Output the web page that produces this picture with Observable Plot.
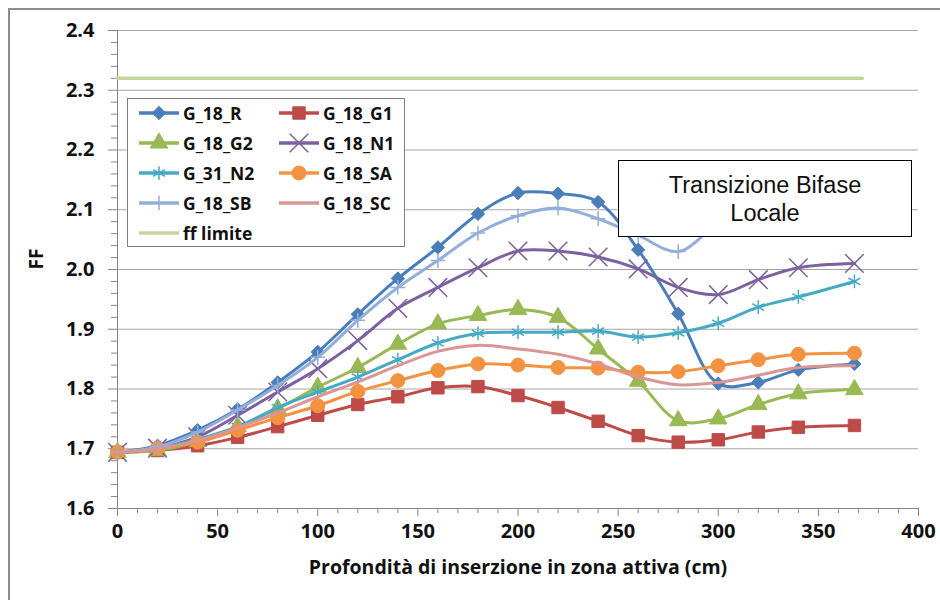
<!DOCTYPE html>
<html>
<head>
<meta charset="utf-8">
<script src="https://cdn.jsdelivr.net/npm/d3@7"></script>
<script src="https://cdn.jsdelivr.net/npm/@observablehq/plot@0.6"></script>
<style>
  body { margin: 0; background: #fff; }
  #wrap { position: relative; width: 940px; height: 600px; overflow: hidden; background: #fff; }
  #frame { position: absolute; left: 8px; top: 8px; width: 1000px; height: 700px; border-left: 2px solid #8c8c8c; border-top: 2px solid #8c8c8c; pointer-events: none; }
  #chart { position: absolute; left: 0; top: 0; }
  #legend { position: absolute; left: 127px; top: 98px; width: 278px; height: 149px; background: #fff; border: 1px solid #7f7f7f; box-sizing: border-box; font-family: "Open Sans", Lato, sans-serif; font-weight: bold; font-size: 17.5px; color: #111; }
  .item { position: absolute; display: flex; align-items: center; height: 20px; }
  .item span { margin-left: 3px; }
  #note { position: absolute; left: 618px; top: 160px; width: 294px; height: 77px; background: #fff; border: 1.5px solid #000; box-sizing: border-box; display: flex; align-items: center; justify-content: center; text-align: center; font-family: "Liberation Sans", Arial, sans-serif; font-size: 23.5px; line-height: 28px; color: #111; }
  #chart g[aria-label$="tick label"] text, #chart g[aria-label$="tick label"] { font-size: 20px !important; font-weight: bold; }
</style>
</head>
<body>
<div id="wrap">
  <div id="chart"></div>
  <div id="legend"></div>
  <div id="note">Transizione Bifase<br>Locale</div>
  <div id="frame"></div>
</div>
<script>
// ---- data ----
const depth = [0, 20, 40, 60, 80, 100, 120, 140, 160, 180, 200, 220, 240, 260, 280, 300, 320, 340, 368];
const G_18_R  = [1.694, 1.705, 1.731, 1.766, 1.811, 1.862, 1.925, 1.985, 2.037, 2.093, 2.128, 2.127, 2.113, 2.033, 1.926, 1.809, 1.811, 1.832, 1.842];
const G_18_G1 = [1.694, 1.697, 1.705, 1.719, 1.737, 1.756, 1.774, 1.787, 1.802, 1.804, 1.789, 1.769, 1.746, 1.722, 1.711, 1.715, 1.728, 1.736, 1.739];
const G_18_G2 = [1.694, 1.697, 1.712, 1.737, 1.767, 1.803, 1.836, 1.875, 1.909, 1.923, 1.933, 1.920, 1.867, 1.813, 1.747, 1.750, 1.774, 1.792, 1.799];
const G_18_N1 = [1.694, 1.701, 1.720, 1.756, 1.795, 1.834, 1.881, 1.935, 1.970, 2.003, 2.031, 2.031, 2.021, 2.001, 1.970, 1.958, 1.983, 2.003, 2.010];
const G_31_N2 = [1.694, 1.701, 1.716, 1.737, 1.769, 1.795, 1.820, 1.849, 1.877, 1.893, 1.895, 1.895, 1.897, 1.887, 1.894, 1.910, 1.937, 1.954, 1.980];
const G_18_SA = [1.694, 1.701, 1.711, 1.731, 1.752, 1.772, 1.796, 1.814, 1.831, 1.842, 1.840, 1.836, 1.835, 1.828, 1.829, 1.839, 1.849, 1.858, 1.860];
const G_18_SB = [1.694, 1.703, 1.728, 1.765, 1.806, 1.853, 1.915, 1.970, 2.015, 2.061, 2.090, 2.103, 2.085, 2.057, 2.030, 2.075, 2.090, 2.100, 2.110];
const G_18_SC = [1.694, 1.700, 1.714, 1.735, 1.760, 1.787, 1.812, 1.839, 1.863, 1.873, 1.867, 1.858, 1.842, 1.820, 1.807, 1.811, 1.823, 1.836, 1.839];
const ffDepth = [0, 372];
const ffLimite = [2.32, 2.32];

const seriesNames = ["G_18_R", "G_18_G1", "G_18_G2", "G_18_N1", "G_31_N2", "G_18_SA", "G_18_SB", "G_18_SC", "ff limite"];
const seriesColors = ["#4A7EBB", "#BE4B48", "#98B954", "#7D60A0", "#46AAC5", "#F39240", "#93AEDA", "#D99694", "#C3D69B"];
const seriesSymbols = ["diamond2", "square", "triangle", "times", "asterisk", "circle", "plus", null, null];
const seriesR = [6, 7, 6.5, 8.5, 6.5, 7, 4.8, 0, 0];
const seriesValues = [G_18_R, G_18_G1, G_18_G2, G_18_N1, G_31_N2, G_18_SA, G_18_SB, G_18_SC, ffLimite];

const xMajor = [0, 50, 100, 150, 200, 250, 300, 350, 400];
const xMinor = d3.range(0, 401, 10).filter(v => v % 50 !== 0);
const yMajor = [1.6, 1.7, 1.8, 1.9, 2.0, 2.1, 2.2, 2.3, 2.4];
const yMinor = d3.range(0, 41).map(i => +(1.6 + i * 0.02).toFixed(2)).filter(v => Math.round(v * 100) % 10 !== 0);

const filledSymbols = new Set(["diamond2", "square", "triangle", "circle"]);
const FONT = "'Open Sans', Lato, sans-serif";

// ---- marks ----
const marks = [
  Plot.gridY(yMajor.slice(1), {stroke: "#a6a6a6", strokeOpacity: 1, strokeWidth: 1}),
  Plot.axisY(yMinor, {tickSize: 6, tickFormat: () => "", stroke: "#868686", label: null}),
  Plot.axisY(yMajor, {tickSize: 9, tickPadding: 14, tickFormat: d => d.toFixed(1), stroke: "#868686", fill: "#111", label: null}),
  Plot.axisX(xMinor, {tickSize: 5, tickFormat: () => "", stroke: "#868686", label: null}),
  Plot.axisX(xMajor, {tickSize: 8, tickPadding: 7, tickFormat: d => String(d), stroke: "#868686", fill: "#111", label: null}),
  Plot.ruleX([0], {stroke: "#868686", strokeWidth: 1}),
  Plot.ruleY([1.6], {stroke: "#868686", strokeWidth: 1}),
  Plot.text(["FF"], {frameAnchor: "left", dx: -81, rotate: -90, fontSize: 19, fontWeight: "bold", fill: "#111", fontFamily: FONT}),
  Plot.text(["Profondità di inserzione in zona attiva (cm)"], {frameAnchor: "bottom", dy: 65, fontSize: 19.5, fontWeight: "bold", fill: "#111", fontFamily: FONT})
];

seriesNames.forEach((name, i) => {
  const xs = name === "ff limite" ? ffDepth : depth;
  const data = xs.map((x, j) => ({x, y: seriesValues[i][j]}));
  marks.push(Plot.line(data, {x: "x", y: "y", stroke: seriesColors[i], strokeWidth: name === "ff limite" ? 3.5 : 3, curve: "catmull-rom"}));
  const sym = seriesSymbols[i];
  if (sym) {
    if (filledSymbols.has(sym)) {
      marks.push(Plot.dot(data, {x: "x", y: "y", symbol: sym, r: seriesR[i], fill: seriesColors[i], stroke: seriesColors[i], strokeWidth: 1}));
    } else {
      marks.push(Plot.dot(data, {x: "x", y: "y", symbol: sym, r: seriesR[i], fill: "none", stroke: seriesColors[i], strokeWidth: 1.5}));
    }
  }
});

const chart = Plot.plot({
  width: 940,
  height: 600,
  marginLeft: 117,
  marginRight: 22,
  marginTop: 30,
  marginBottom: 92,
  x: {domain: [0, 400], label: null},
  y: {domain: [1.6, 2.4], label: null},
  style: {fontFamily: FONT, fontSize: "20px", fontWeight: "bold", color: "#111", background: "transparent"},
  marks
});
d3.select(chart).selectAll('g[aria-label$="tick label"]').attr("font-size", 20).selectAll("text").attr("font-size", 20);
document.getElementById("chart").appendChild(chart);

// ---- legend ----
const legend = document.getElementById("legend");
const rowY = [4, 34, 64, 94, 124];
const colX = [10, 150];
seriesNames.forEach((name, i) => {
  const col = i === 8 ? 0 : i % 2;
  const row = Math.floor(i / 2);
  const item = document.createElement("div");
  item.className = "item";
  item.style.left = colX[col] + "px";
  item.style.top = rowY[row] + "px";
  const svg = d3.create("svg").attr("width", 42).attr("height", 20);
  svg.append("line").attr("x1", 1).attr("x2", 41).attr("y1", 10).attr("y2", 10)
    .attr("stroke", seriesColors[i]).attr("stroke-width", 3.5);
  const sym = seriesSymbols[i];
  if (sym) {
    const map = {diamond2: d3.symbolDiamond2, square: d3.symbolSquare, triangle: d3.symbolTriangle, times: d3.symbolTimes, asterisk: d3.symbolAsterisk, circle: d3.symbolCircle, plus: d3.symbolPlus};
    const filled = filledSymbols.has(sym);
    svg.append("path")
      .attr("transform", "translate(21,10)")
      .attr("d", d3.symbol(map[sym], Math.PI * seriesR[i] * seriesR[i])())
      .attr("fill", filled ? seriesColors[i] : "none")
      .attr("stroke", seriesColors[i]).attr("stroke-width", filled ? 1 : 1.5);
  }
  item.appendChild(svg.node());
  const span = document.createElement("span");
  span.textContent = name;
  item.appendChild(span);
  legend.appendChild(item);
});
</script>
</body>
</html>
